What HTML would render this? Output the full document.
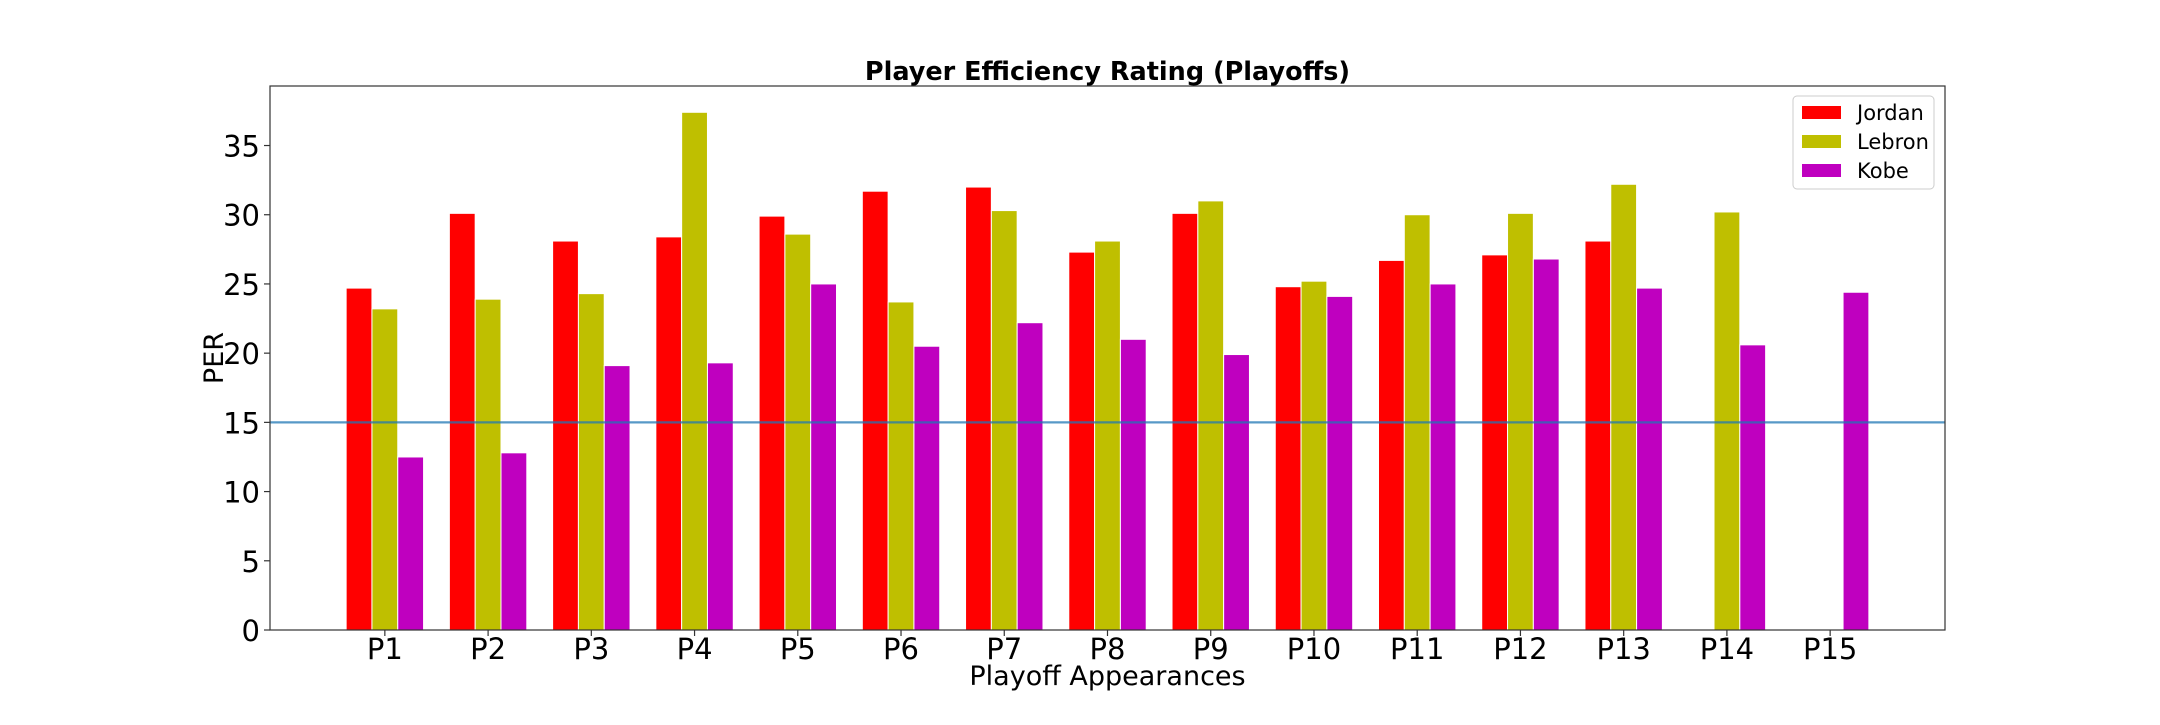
<!DOCTYPE html>
<html><head><meta charset="utf-8"><style>
body{margin:0;background:#fff;}
svg text{font-family:"DejaVu Sans","Liberation Sans",sans-serif;}
</style></head><body>
<svg id="chart" width="2160" height="720" xmlns="http://www.w3.org/2000/svg">
<rect width="2160" height="720" fill="#fff"/>
<g id="bars"></g>
<g id="axes"></g>
</svg>
<script>
const categories=["P1","P2","P3","P4","P5","P6","P7","P8","P9","P10","P11","P12","P13","P14","P15"];
const jordan=[24.7,30.1,28.1,28.4,29.9,31.7,32.0,27.3,30.1,24.8,26.7,27.1,28.1,null,null];
const lebron=[23.2,23.9,24.3,37.4,28.6,23.7,30.3,28.1,31.0,25.2,30.0,30.1,32.2,30.2,null];
const kobe=[12.5,12.8,19.1,19.3,25.0,20.5,22.2,21.0,19.9,24.1,25.0,26.8,24.7,20.6,24.4];
const yTicks=[0,5,10,15,20,25,30,35];
const refValue=15;
const seriesNames=["Jordan","Lebron","Kobe"];

const NS="http://www.w3.org/2000/svg";
const L=270,R=1945,T=86,B=630;
const xMin=-1.1125,xMax=15.1125,yMax=39.3;
const xs=v=>L+(v-xMin)/(xMax-xMin)*(R-L);
const ys=v=>B-v/yMax*(B-T);
function mk(tag,attrs,parent){const e=document.createElementNS(NS,tag);for(const k in attrs)e.setAttribute(k,attrs[k]);parent.appendChild(e);return e;}
const bars=document.getElementById('bars'),axes=document.getElementById('axes');
const series=[jordan,lebron,kobe],colors=["#ff0000","#bfbf00","#bf00bf"],offs=[-0.25,0,0.25],bw=0.25;
series.forEach((s,si)=>{s.forEach((v,i)=>{if(v==null)return;
 const x0=xs(i+offs[si]-bw/2),x1=xs(i+offs[si]+bw/2);
 const r=mk('rect',{x:x0,y:ys(v),width:x1-x0,height:B-ys(v),fill:colors[si],stroke:"#fff","stroke-width":1},bars);
 
 
});});
const ref=mk('line',{x1:L,x2:R,y1:ys(refValue),y2:ys(refValue),stroke:"#1f77b4","stroke-width":2.2,"stroke-opacity":0.75},axes);


const frame=mk('rect',{x:L,y:T,width:R-L,height:B-T,fill:"none",stroke:"#333","stroke-width":1.2},axes);


yTicks.forEach(t=>{const y=ys(t);
 mk('line',{x1:L-6,x2:L,y1:y,y2:y,stroke:"#333","stroke-width":1.2},axes);
 const tx=mk('text',{x:L-10,y:y+11,"text-anchor":"end","font-size":29},axes);tx.textContent=t;
 
 
});
categories.forEach((c,i)=>{const x=xs(i);
 mk('line',{x1:x,x2:x,y1:B,y2:B+6,stroke:"#333","stroke-width":1.2},axes);
 const tx=mk('text',{x:x,y:B+29,"text-anchor":"middle","font-size":29},axes);tx.textContent=c;
 
 
});
const title=mk('text',{x:(L+R)/2,y:80,"text-anchor":"middle","font-size":25.5,"font-weight":"bold"},axes);title.textContent="Player Efficiency Rating (Playoffs)";


const xl=mk('text',{x:(L+R)/2,y:685,"text-anchor":"middle","font-size":27},axes);xl.textContent="Playoff Appearances";


const yl=mk('text',{x:223,y:(T+B)/2,"text-anchor":"middle","font-size":27,transform:`rotate(-90 223 ${(T+B)/2})`},axes);yl.textContent="PER";


const lg=mk('g',{},axes);


mk('rect',{x:1793,y:96,width:141,height:93,rx:4,fill:"#fff","fill-opacity":0.8,stroke:"#ccc","stroke-width":1},lg);
seriesNames.forEach((n,i)=>{const y=112+i*29;
 const sw=mk('rect',{x:1802,y:y-6,width:39,height:13,fill:colors[i]},lg);
 
 
 const t=mk('text',{x:1857,y:y+8,"font-size":21},lg);t.textContent=n;
 
 
});
</script>
</body></html>
